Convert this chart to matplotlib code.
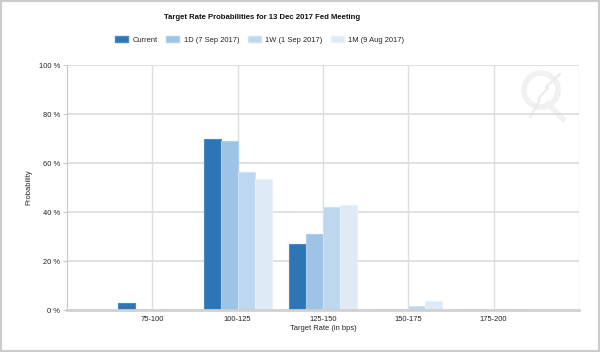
import matplotlib
matplotlib.use("Agg")
import matplotlib.pyplot as plt
import numpy as np
from matplotlib.patches import Rectangle, Patch, Circle

categories = ['75-100', '100-125', '125-150', '150-175', '175-200']
series = ['Current', '1D (7 Sep 2017)', '1W (1 Sep 2017)', '1M (9 Aug 2017)']
current = [3.0, 69.9, 27.1, 0.0, 0.0]
one_day = [0.0, 69.0, 31.0, 0.0, 0.0]
one_week = [0.0, 56.5, 42.0, 1.5, 0.0]
one_month = [0.0, 53.3, 42.9, 3.5, 0.3]
values = [current, one_day, one_week, one_month]

colors = ['#2e75b6', '#9dc3e6', '#bdd7ee', '#deebf7']
edges = ['#4a8ac4', '#b0cfec', '#cfe2f3', '#e8f1fa']

plt.rcParams['font.family'] = ['Liberation Sans', 'DejaVu Sans']
fs = 5.4
tc = '#222222'

fig = plt.figure(figsize=(6, 3.52), dpi=100)

# faint watermark logo (pixel coordinates overlay)
deco = fig.add_axes([0, 0, 1, 1], zorder=0)
deco.set_xlim(0, 600)
deco.set_ylim(352, 0)
deco.axis('off')
deco.add_patch(Circle((541, 90), 17, fill=False, edgecolor='#f1f1f1', lw=4))
deco.plot([530, 540, 538, 548, 546, 560], [117, 100, 99, 88, 87, 74], color='#ebebeb', lw=1.5)
deco.plot([548, 563], [104, 119], color='#f1f1f1', lw=4)

ax = fig.add_axes([0.1117, 0.1193, 0.8533, 0.696], zorder=1)
ax.patch.set_alpha(0)

x = np.arange(len(categories))
bw = 0.2
for i, vals in enumerate(values):
    ax.bar(x + (i - 1.5) * bw, vals, bw, color=colors[i], edgecolor=edges[i],
           linewidth=0.8, zorder=3, label=series[i])

ax.set_xlim(-1, 5)
ax.set_ylim(0, 100)
ax.set_xticks(x)
ax.set_xticklabels(categories, fontsize=fs, color=tc)
ax.set_yticks(np.arange(0, 101, 20))
ax.set_yticklabels(['%d %%' % v for v in range(0, 101, 20)], fontsize=fs, color=tc)

# grid
for yv in range(20, 101, 20):
    ax.axhline(yv, color='#dedede', lw=1.3, zorder=1)
for xv in list(x) + [5]:
    ax.axvline(xv, color='#dedede', lw=1.0, zorder=1)

for s in ['top', 'right']:
    ax.spines[s].set_visible(False)
ax.spines['left'].set_color('#c8c8c8')
ax.spines['bottom'].set_color('#d0d0d0')
ax.spines['bottom'].set_linewidth(2)
ax.spines['bottom'].set_zorder(4)
ax.tick_params(axis='y', length=3, color='#c8c8c8', pad=2)
ax.tick_params(axis='x', length=0, pad=4)

ax.set_ylabel('Probability', fontsize=fs, color=tc, labelpad=5)
ax.set_xlabel('Target Rate (in bps)', fontsize=fs, color=tc, labelpad=2)

fig.text(0.436, 0.949, 'Target Rate Probabilities for 13 Dec 2017 Fed Meeting',
         ha='center', va='center', fontsize=5.6, fontweight='bold', color='#111111')

handles = [Patch(facecolor=colors[i], edgecolor=edges[i]) for i in range(4)]
fig.legend(handles, series, loc='center', bbox_to_anchor=(0.433, 0.886), ncol=4,
           frameon=False, fontsize=fs, handlelength=1.75, handleheight=0.75,
           columnspacing=1.1, handletextpad=0.6, labelcolor=tc)

fig.patches.append(Rectangle((0.002, 0.003), 0.996, 0.994, transform=fig.transFigure,
                             fill=False, edgecolor='#cccccc', lw=1.5))

fig.savefig('out.png', dpi=100)
